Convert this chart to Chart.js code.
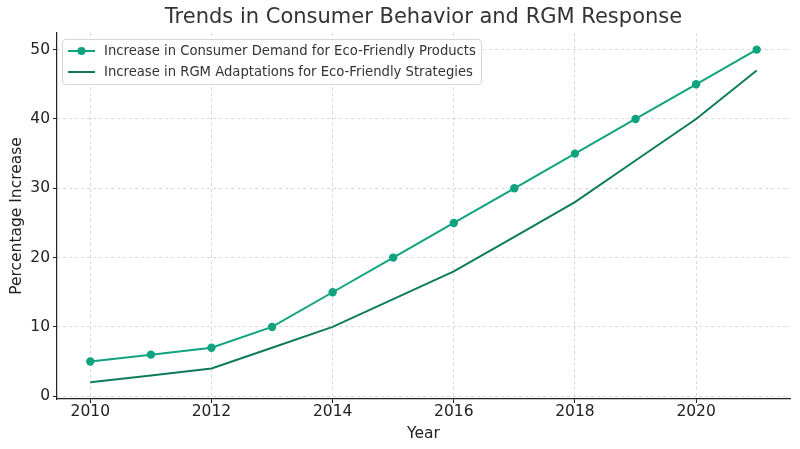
<!DOCTYPE html>
<html>
<head>
<meta charset="utf-8">
<script src="https://cdn.jsdelivr.net/npm/chart.js@4.4.1/dist/chart.umd.min.js"></script>
<style>
html,body{margin:0;padding:0;background:#fff;}
#wrap{width:800px;height:449px;position:relative;}
</style>
</head>
<body>
<div id="wrap"><canvas id="c" width="800" height="449"></canvas></div>
<script>
const years = [2010,2011,2012,2013,2014,2015,2016,2017,2018,2019,2020,2021];
const consumerDemand = [5,6,7,10,15,20,25,30,35,40,45,50];
const rgmAdaptations = [2,3,4,7,10,14,18,23,28,34,40,47];
const xTicks = [2010,2012,2014,2016,2018,2020];
const yTicks = [0,10,20,30,40,50];
const seriesLabels = ['Increase in Consumer Demand for Eco-Friendly Products','Increase in RGM Adaptations for Eco-Friendly Strategies'];
const titleText = 'Trends in Consumer Behavior and RGM Response';

const FONT = "'DejaVu Sans', sans-serif";
const C1 = '#10a37f', C2 = '#0e7c5a';

const titlePlugin = {
  id:'mplTitle',
  afterDraw(chart){
    const ctx = chart.ctx, a = chart.chartArea;
    ctx.save();
    ctx.font = "21px " + FONT;
    ctx.fillStyle = '#333';
    ctx.textAlign = 'center';
    ctx.textBaseline = 'middle';
    ctx.fillText(titleText, (a.left+a.right)/2, 18);
    ctx.restore();
  }
};
const legendPlugin = {
  id:'mplLegend',
  afterDraw(chart){
    const ctx = chart.ctx, a = chart.chartArea;
    const x0 = a.left + 5, y0 = a.top + 6, w = 419, h = 45;
    ctx.save();
    ctx.fillStyle = 'rgba(255,255,255,0.85)';
    ctx.strokeStyle = '#d6d6d6';
    ctx.lineWidth = 1;
    ctx.beginPath();
    ctx.roundRect(x0+0.5, y0+0.5, w, h, 3);
    ctx.fill(); ctx.stroke();
    ctx.font = "13.2px " + FONT;
    ctx.textBaseline = 'middle';
    chart.data.datasets.forEach((ds, i) => {
      const y = y0 + 12 + i*21;
      ctx.strokeStyle = ds.borderColor;
      ctx.lineWidth = 2;
      ctx.beginPath(); ctx.moveTo(x0+6, y); ctx.lineTo(x0+33, y); ctx.stroke();
      if (ds.pointRadius > 0) {
        ctx.fillStyle = ds.pointBackgroundColor;
        ctx.beginPath(); ctx.arc(x0+19.5, y, 4, 0, Math.PI*2); ctx.fill();
      }
      ctx.fillStyle = '#333';
      ctx.fillText(ds.label, x0+42, y+1);
    });
    ctx.restore();
  }
};

new Chart(document.getElementById('c'), {
  type:'line',
  data:{
    datasets:[
      {label:seriesLabels[0], data:years.map((y,i)=>({x:y,y:consumerDemand[i]})), borderColor:C1, backgroundColor:C1, pointBackgroundColor:C1, pointBorderColor:C1, pointBorderWidth:0, pointRadius:4.2, pointHoverRadius:4.2, borderWidth:2, tension:0},
      {label:seriesLabels[1], data:years.map((y,i)=>({x:y,y:rgmAdaptations[i]})), borderColor:C2, backgroundColor:C2, pointBackgroundColor:C2, pointRadius:0, pointHoverRadius:0, borderWidth:2, tension:0}
    ]
  },
  options:{
    responsive:false,
    animation:false,
    events:[],
    layout:{padding:{top:33,right:10,left:0,bottom:0}},
    plugins:{legend:{display:false}, title:{display:false}, tooltip:{enabled:false}},
    scales:{
      x:{
        type:'linear', min:2009.45, max:2021.55,
        afterBuildTicks(s){ s.ticks = xTicks.map(v=>({value:v})); },
        afterFit(s){ s.height = 50; },
        ticks:{font:{family:FONT,size:15.5}, color:'#222', padding:0, maxRotation:0, autoSkip:false, callback:v=>String(v)},
        grid:{color:'#d0d0d0', lineWidth:0.8, tickLength:4, tickColor:'#222', tickWidth:1},
        border:{display:true, color:'#222', width:1.2, dash:[3,3]},
        title:{display:true, text:'Year', font:{family:FONT,size:15.5}, color:'#222', padding:{top:0,bottom:6}}
      },
      y:{
        min:-0.4, max:52.4,
        afterBuildTicks(s){ s.ticks = yTicks.map(v=>({value:v})); },
        afterFit(s){ s.width = 57; },
        ticks:{font:{family:FONT,size:15.5}, color:'#222', padding:3, autoSkip:false},
        grid:{color:'#d0d0d0', lineWidth:0.8, tickLength:4, tickColor:'#222', tickWidth:1},
        border:{display:true, color:'#222', width:1.2, dash:[3,3]},
        title:{display:true, text:'Percentage Increase', font:{family:FONT,size:15.5}, color:'#222', padding:{top:8,bottom:0}}
      }
    }
  },
  plugins:[titlePlugin, legendPlugin]
});
</script>
</body>
</html>
